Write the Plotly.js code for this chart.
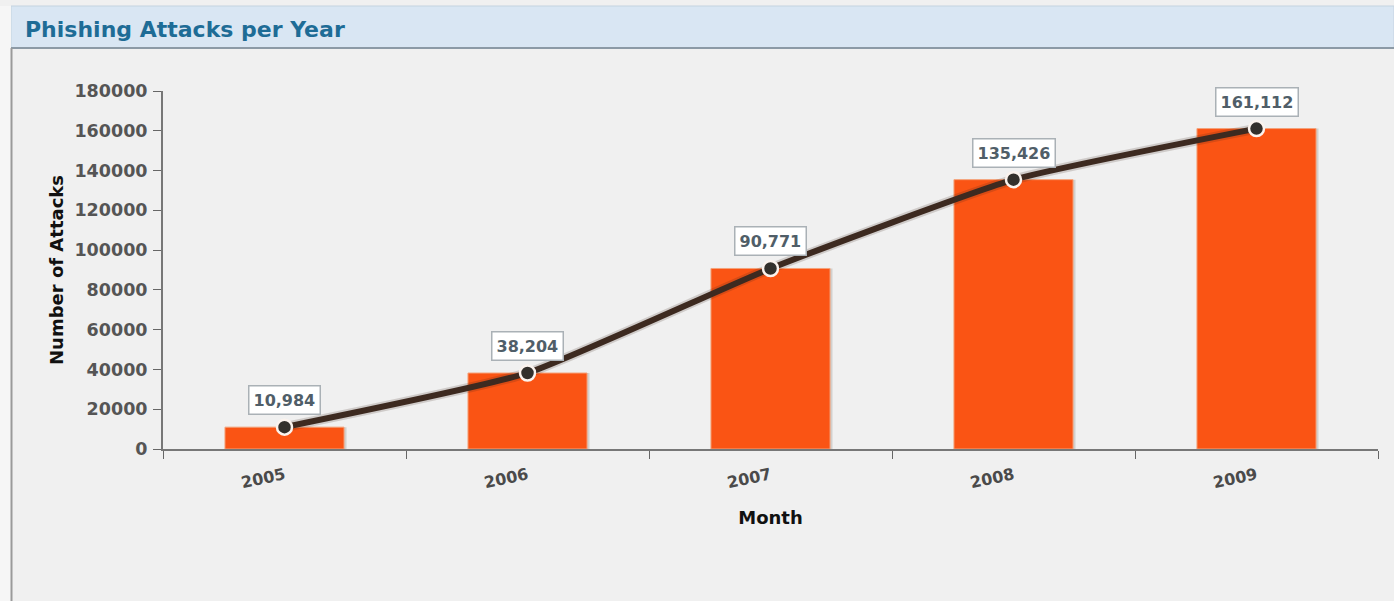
<!DOCTYPE html>
<html>
<head>
<meta charset="utf-8">
<script src="https://cdn.plot.ly/plotly-3.0.1.min.js"></script>
<style>
html,body{margin:0;padding:0;background:#f4f4f4;}
#chart{width:1394px;height:601px;}
</style>
</head>
<body>
<div id="chart"></div>
<script>
const years = ['2005', '2006', '2007', '2008', '2009'];
const attacks = [10984, 38204, 90771, 135426, 161112];
const yTicks = [0, 20000, 40000, 60000, 80000, 100000, 120000, 140000, 160000, 180000];

const FONT = 'DejaVu Sans, Verdana, sans-serif';
const fmt = v => v.toLocaleString('en-US');

const shadowBars = {
  type: 'bar', x: years, y: attacks, width: 0.49, offset: -0.235,
  marker: {color: 'rgba(120,110,100,0.25)', line: {width: 0}},
  hoverinfo: 'skip', showlegend: false
};
const bars = {
  type: 'bar', x: years, y: attacks, width: 0.49, offset: -0.245,
  marker: {color: '#fa5414', line: {color: '#f5a27a', width: 1}},
  hoverinfo: 'skip', showlegend: false
};
const lineShadow = {
  type: 'scatter', mode: 'lines', x: years, y: attacks,
  line: {color: 'rgba(60,40,30,0.18)', width: 10, shape: 'spline', smoothing: 0.45},
  showlegend: false, hoverinfo: 'skip'
};
const line = {
  type: 'scatter', mode: 'lines+markers', x: years, y: attacks,
  line: {color: '#3d2a20', width: 6, shape: 'spline', smoothing: 0.45},
  marker: {color: '#33302c', size: 15, line: {color: '#fbf3ee', width: 2.5}},
  showlegend: false, hoverinfo: 'skip'
};
const annotations = years.map((yr, i) => ({
  x: i, y: attacks[i], xref: 'x', yref: 'y', text: fmt(attacks[i]),
  showarrow: false, yanchor: 'bottom', yshift: 12,
  font: {family: FONT, size: 16, color: '#505e68', weight: 'bold'},
  bgcolor: '#ffffff', bordercolor: '#aab1b6', borderwidth: 1.5, borderpad: 4
}));

const layout = {
  width: 1394, height: 601,
  paper_bgcolor: '#f0f0f0', plot_bgcolor: 'rgba(0,0,0,0)',
  margin: {l: 163, r: 16, t: 91, b: 152},
  barmode: 'overlay',
  title: {text: 'Phishing Attacks per Year', x: 25/1394, xanchor: 'left', xref: 'container', y: 1 - 29/601, yanchor: 'middle', yref: 'container',
    font: {family: FONT, size: 22, color: '#1e6c96', weight: 'bold'}},
  xaxis: {
    type: 'category', range: [-0.5, 4.5], tickson: 'boundaries',
    showline: true, linecolor: '#777', linewidth: 2, ticks: 'outside', ticklen: 8, tickcolor: '#666', tickwidth: 1,
    showgrid: false, zeroline: false, tickangle: -12, ticklabelstandoff: 9,
    tickfont: {family: FONT, size: 16, color: '#4a4a4a', weight: 'bold'},
    title: {text: 'Month', standoff: 20, font: {family: FONT, size: 18, color: '#111', weight: 'bold'}}
  },
  yaxis: {
    range: [0, 180000], tickvals: yTicks, ticktext: yTicks.map(String),
    showline: true, linecolor: '#777', linewidth: 2, ticks: 'outside', ticklen: 8, tickcolor: '#666',
    showgrid: false, zeroline: false, ticklabelstandoff: 2,
    tickfont: {family: FONT, size: 17.5, color: '#555', weight: 'bold'},
    title: {text: 'Number of Attacks', standoff: 6, font: {family: FONT, size: 18, color: '#111', weight: 'bold'}}
  },
  annotations: annotations,
  shapes: [
    {type: 'rect', xref: 'paper', yref: 'paper', x0: -163/1215, x1: 1 + 16/1215, y0: 1 + 91/358, y1: 1 + 200/358, fillcolor: '#f4f4f4', line: {width: 0}, layer: 'below'},
    {type: 'rect', xref: 'paper', yref: 'paper', x0: -152/1215, x1: 1 + 16/1215, y0: 1 + (91-48)/358, y1: 1 + (91-6)/358, fillcolor: '#d9e6f3', line: {color: '#c4d3e0', width: 1}, layer: 'below'},
    {type: 'line', xref: 'paper', yref: 'paper', x0: -152/1215, x1: 1 + 16/1215, y0: 1 + (91-48)/358, y1: 1 + (91-48)/358, line: {color: '#8c9aa6', width: 2}, layer: 'below'},
    {type: 'rect', xref: 'paper', yref: 'paper', x0: -163/1215, x1: -152/1215, y0: -152/358, y1: 1 + (91-6)/358, fillcolor: '#f6f6f6', line: {width: 0}, layer: 'below'},
    {type: 'line', xref: 'paper', yref: 'paper', x0: -151.5/1215, x1: -151.5/1215, y0: -152/358, y1: 1 + (91-48)/358, line: {color: '#9a9a9a', width: 2}, layer: 'below'}
  ]
};

Plotly.newPlot('chart', [shadowBars, bars, lineShadow, line], layout, {displayModeBar: false, staticPlot: true});
</script>
</body>
</html>
